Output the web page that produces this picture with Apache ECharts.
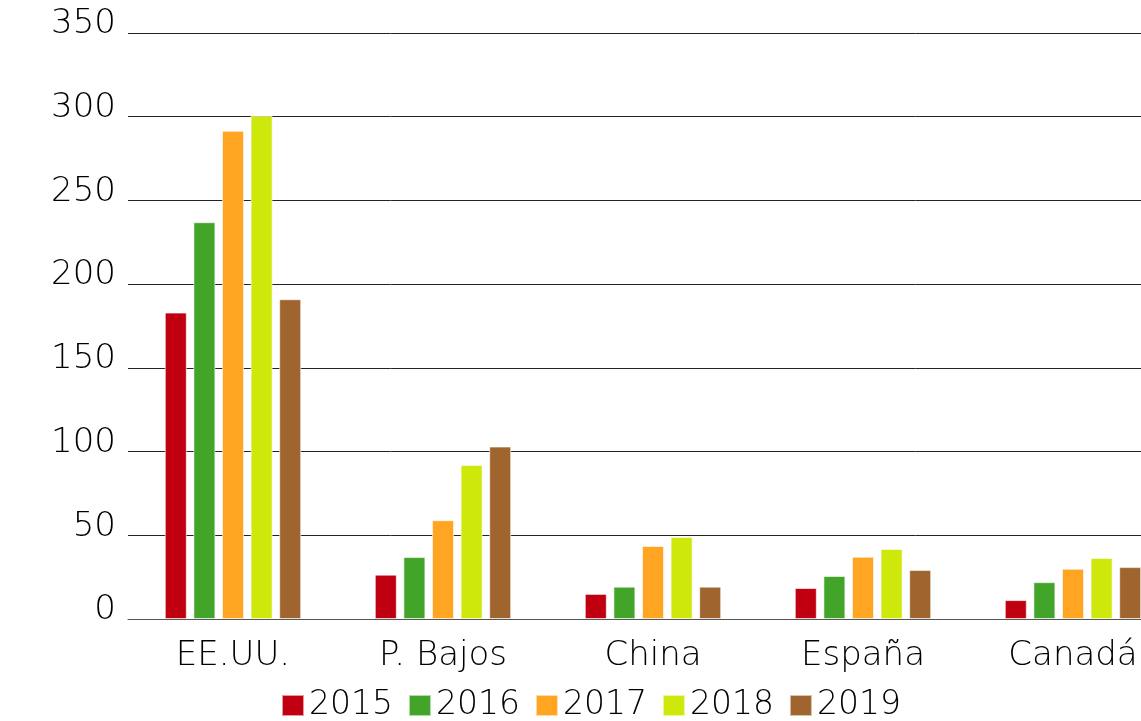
<!DOCTYPE html>
<html>
<head>
<meta charset="utf-8">
<script src="https://cdn.jsdelivr.net/npm/echarts@6/dist/echarts.min.js"></script>
<style>
    html, body { margin: 0; padding: 0; background: #fff; overflow: hidden; }
    /* el gráfico es más ancho que la ventana: Canadá queda cortado a la derecha */
    #barGraph { width: 1200px; height: 721px; }
</style>
</head>
<body>
<div id="barGraph"></div>
<script>
// datos
var paises = ['EE.UU.', 'P. Bajos', 'China', 'España', 'Canadá']
var anios = ['2015', '2016', '2017', '2018', '2019']
var v2015 = [183, 26.5, 15, 18.5, 11.3]
var v2016 = [237, 37, 19.3, 25.7, 22]
var v2017 = [291.6, 59, 43.6, 37.2, 30]
var v2018 = [300.6, 92, 49, 41.8, 36.4]
var v2019 = [191, 103, 19.3, 29.3, 31]
var colores = ['#c00010', '#42a52a', '#ffa521', '#cfe80b', '#a0652f']

var valores = [v2015, v2016, v2017, v2018, v2019]
var fuente = '"DejaVu Sans", sans-serif'

var series = anios.map(function (a, i) {
    return {
        name: a,
        type: 'bar',
        barWidth: 22,
        barGap: '30%',
        data: valores[i],
        itemStyle: { color: colores[i], borderColor: 'rgba(255,255,255,0.6)', borderWidth: 1 }
    }
})

var option = {
    animation: false,
    color: colores,
    grid: {
        left: 128,
        top: 33,
        bottom: 102,
        width: 1050,
        containLabel: false
    },
    legend: {
        top: 684,
        left: 276,
        itemWidth: 22,
        itemHeight: 21,
        itemGap: 15,
        textStyle: { fontFamily: fuente, fontWeight: 300, fontSize: 33, color: '#000' },
        data: anios.map(function (a) { return { name: a, icon: 'rect' } })
    },
    xAxis: {
        type: 'category',
        data: paises,
        axisTick: { show: false },
        axisLine: { show: true, lineStyle: { color: '#555', width: 1 } },
        axisLabel: {
            interval: 0,
            margin: 20,
            fontFamily: fuente,
            fontWeight: 300,
            fontSize: 34,
            color: '#000'
        }
    },
    yAxis: {
        type: 'value',
        min: 0,
        max: 350,
        interval: 50,
        axisLine: { show: false },
        axisTick: { show: false },
        axisLabel: {
            margin: 12,
            fontFamily: fuente,
            fontWeight: 300,
            fontSize: 34,
            color: '#000',
            verticalAlign: 'bottom',
            lineHeight: 17
        },
        splitLine: { lineStyle: { color: '#222', width: 1 } }
    },
    series: series
}

var myChart = echarts.init(document.getElementById('barGraph'))
myChart.setOption(option)
</script>
</body>
</html>
